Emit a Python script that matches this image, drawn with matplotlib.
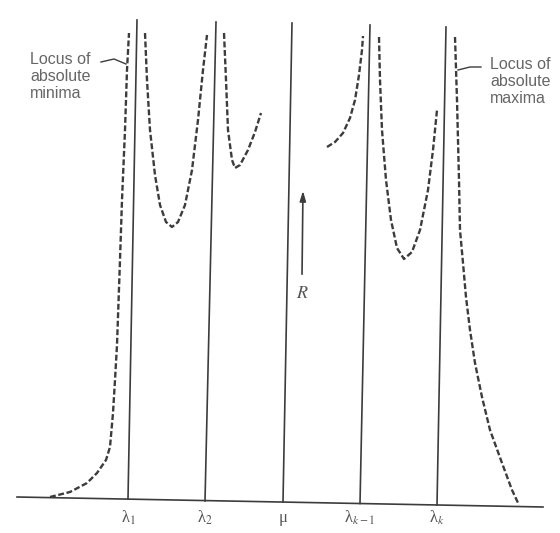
import matplotlib.pyplot as plt
import matplotlib as mpl

# positions along the axis (slightly tilted), R upward
tick_labels = ['λ$_1$', 'λ$_2$', 'μ', 'λ$_{k-1}$', 'λ$_k$']
line_x_bottom = [128, 205, 283, 360, 437]
line_x_top = [137, 216, 292, 370, 446]
line_r_bottom = [1, -1, -2, -3.5, -5]
line_r_top = [480, 478, 477, 475, 473]

base_x = [17, 543]
base_r = [3, -7]

# dashed branches of R(x)
branch1_x = [50, 70, 87, 97, 106, 110, 113, 115, 117, 120, 122, 125, 127, 129]
branch1_r = [3, 8, 17, 27, 40, 53, 87, 120, 155, 240, 300, 370, 430, 467]
branch2_x = [145, 147, 150, 155, 160, 166, 172, 178, 185, 192, 198, 203, 207]
branch2_r = [467, 420, 370, 325, 295, 278, 273, 278, 295, 330, 380, 430, 465]
branch3_x = [224, 226, 228, 232, 235, 240, 248, 255, 261]
branch3_r = [467, 420, 370, 340, 332, 335, 350, 368, 387]
branch4_x = [327, 335, 343, 350, 355, 359, 362, 363]
branch4_r = [353, 358, 367, 382, 400, 425, 450, 464]
branch5_x = [379, 380, 382, 386, 391, 397, 404, 412, 420, 428, 433, 437]
branch5_r = [463, 420, 370, 320, 280, 252, 241, 248, 270, 310, 350, 390]
branch6_x = [455, 457, 459, 460, 463, 466, 470, 475, 482, 490, 502, 512, 519]
branch6_r = [463, 400, 320, 270, 237, 203, 170, 137, 103, 70, 37, 10, -5]

mpl.rcParams['mathtext.fontset'] = 'stix'

fig = plt.figure(figsize=(5.6, 5.33), dpi=100)
ax = fig.add_axes([0, 0, 1, 1])
ax.set_xlim(0, 560)
ax.set_ylim(-33, 500)
ax.axis('off')

ink = '#3c3c3c'
txt = '#555555'

ax.plot(base_x, base_r, color=ink, lw=1.2)
for xb, xt, rb, rt in zip(line_x_bottom, line_x_top, line_r_bottom, line_r_top):
    ax.plot([xb, xt], [rb, rt], color=ink, lw=1.2)

branches = [(branch1_x, branch1_r), (branch2_x, branch2_r), (branch3_x, branch3_r),
            (branch4_x, branch4_r), (branch5_x, branch5_r), (branch6_x, branch6_r)]
for bx, br in branches:
    ax.plot(bx, br, color=ink, lw=1.7, dashes=(2.5, 1.1))

for xb, lab in zip(line_x_bottom, tick_labels):
    ax.text(xb, -18, lab, ha='center', va='center', fontsize=12, color=txt,
            family='Liberation Serif')

# R arrow
ax.annotate('', xy=(303, 312), xytext=(302, 223),
            arrowprops=dict(arrowstyle='-|>,head_width=0.18,head_length=0.6',
                            color=ink, lw=1.2))
ax.text(302, 207, r'$R$', ha='center', va='center', fontsize=13, color=txt)

# locus labels
ax.text(30, 448, 'Locus of\nabsolute\nminima', ha='left', va='top',
        fontsize=11.5, color='#666666', family='Liberation Sans', linespacing=1.15)
ax.plot([101, 114, 126], [438, 441, 436], color=ink, lw=1)
ax.text(490, 443, 'Locus of\nabsolute\nmaxima', ha='left', va='top',
        fontsize=11.5, color='#666666', family='Liberation Sans', linespacing=1.15)
ax.plot([458, 470, 481], [430, 433, 433], color=ink, lw=1)

fig.savefig('out.png', dpi=100)
